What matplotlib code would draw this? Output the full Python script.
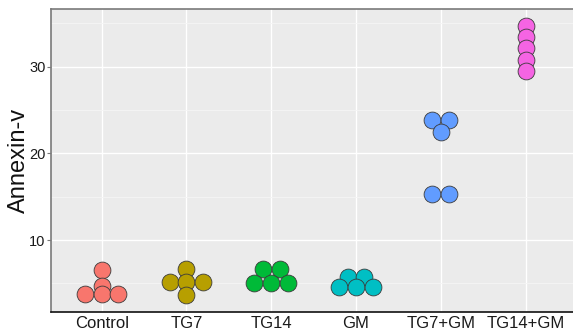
import matplotlib
matplotlib.use("Agg")
import matplotlib.pyplot as plt
import numpy as np

categories = ["Control", "TG7", "TG14", "GM", "TG7+GM", "TG14+GM"]
colors = ["#F8766D", "#B79F00", "#00BA38", "#00BFC4", "#619CFF", "#F564E3"]
values = {
    "Control": [6.6, 4.7, 3.75, 3.75, 3.75],
    "TG7": [6.7, 5.2, 5.2, 5.2, 3.65],
    "TG14": [6.7, 6.7, 5.0, 5.0, 5.0],
    "GM": [5.7, 5.7, 4.55, 4.55, 4.55],
    "TG7+GM": [23.8, 23.8, 22.5, 15.3, 15.3],
    "TG14+GM": [34.7, 33.4, 32.1, 30.75, 29.5],
}
yticks = [10, 20, 30]
yminor = [5, 15, 25, 35]

W, H = 573, 336
fig = plt.figure(figsize=(W / 100, H / 100), dpi=100)
left, right, top, bottom = 51, 573, 9, 312
ax = fig.add_axes([left / W, 1 - bottom / H, (right - left) / W, (bottom - top) / H])
ax.set_facecolor("#EBEBEB")

xlim = (0.402, 6.56)
ylim = (1.7, 36.65)
ax.set_xlim(*xlim)
ax.set_ylim(*ylim)

# dot diameter in pixels -> data-x offset
dot_px = 16.8
px_per_x = (right - left) / (xlim[1] - xlim[0])
dx = dot_px / px_per_x
s = (dot_px * 72 / 100) ** 2

for i, cat in enumerate(categories):
    vals = values[cat]
    uniq = []
    for v in vals:
        if v not in uniq:
            uniq.append(v)
    for v in uniq:
        n = vals.count(v)
        offs = (np.arange(n) - (n - 1) / 2) * dx
        ax.scatter(i + 1 + offs, [v] * n, s=s, color=colors[i],
                   edgecolor="#3a3a3a", linewidth=0.6, zorder=3)

ax.set_xticks(range(1, len(categories) + 1))
ax.set_xticklabels(categories)
ax.set_yticks(yticks)
ax.set_yticks(yminor, minor=True)
ax.grid(True, which="major", color="white", linewidth=1.0, zorder=0)
ax.grid(True, which="minor", axis="y", color="#F5F5F5", linewidth=0.6, zorder=0)
ax.set_axisbelow(True)

for sp in ["top", "left"]:
    ax.spines[sp].set_color("#7a7a7a")
    ax.spines[sp].set_linewidth(1.2)
ax.spines["bottom"].set_color("#111111")
ax.spines["bottom"].set_linewidth(1.2)
ax.spines["right"].set_visible(False)

ax.tick_params(axis="y", which="major", length=3, color="#7a7a7a", pad=1,
               labelsize=10.5, labelcolor="#1a1a1a")
ax.tick_params(axis="y", which="minor", length=0)
ax.tick_params(axis="x", length=0, pad=3, labelsize=12, labelcolor="#1a1a1a")
for lab in ax.get_xticklabels() + ax.get_yticklabels():
    lab.set_fontfamily("Liberation Sans")

ax.set_ylabel("Annexin-v", fontsize=17, family="Liberation Sans", color="#111111")
ax.yaxis.set_label_coords((19 - left) / (right - left), 0.5)
ax.yaxis.label.set_verticalalignment("center")

fig.savefig("out.png", dpi=100)
